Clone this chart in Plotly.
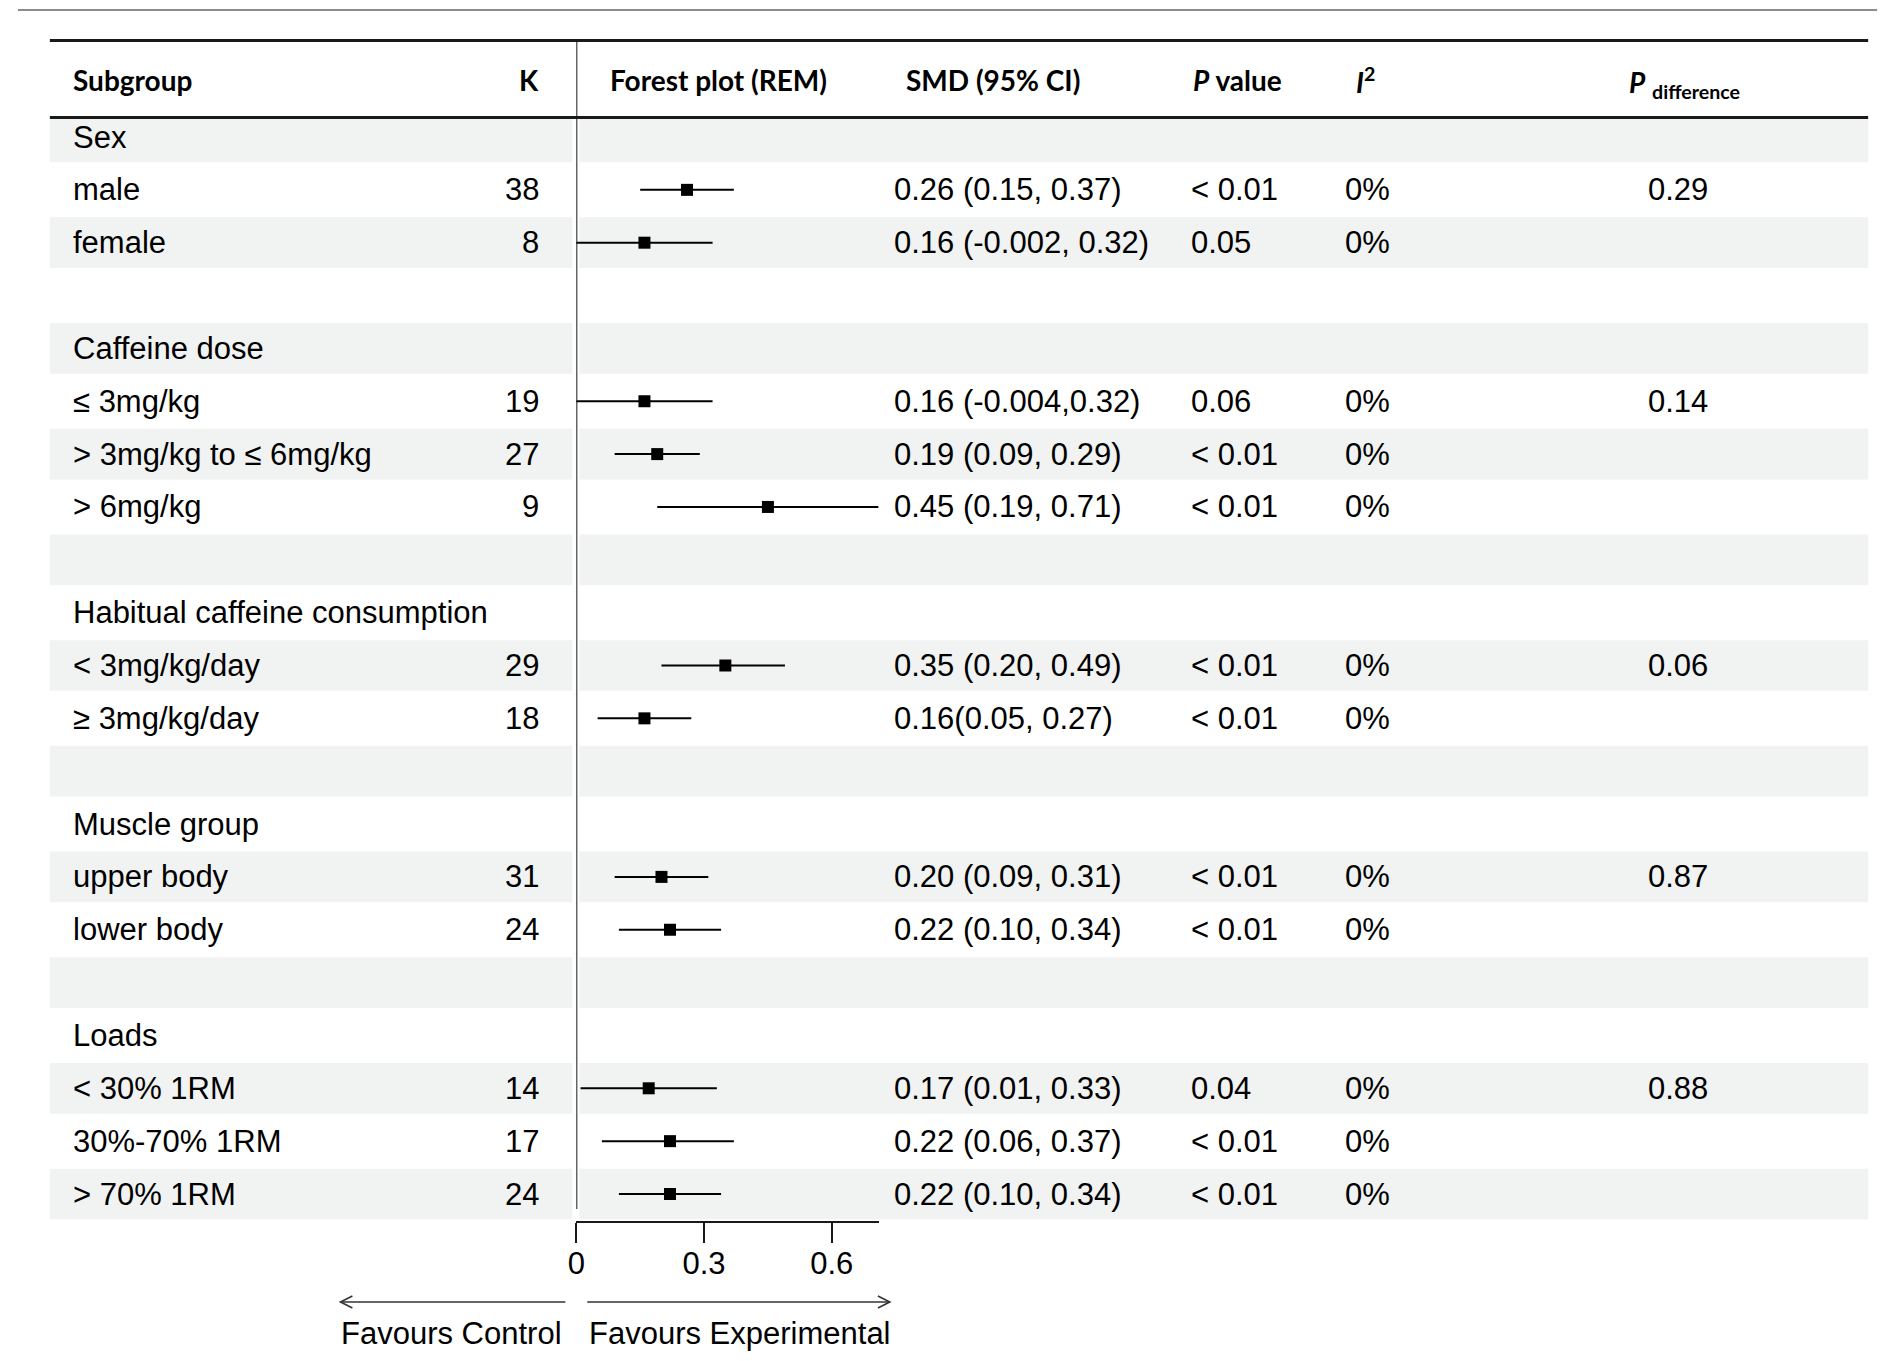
import plotly.graph_objects as go

# ---------------- data ----------------
labels = ["Sex", "male", "female", "",
          "Caffeine dose", "≤ 3mg/kg", "> 3mg/kg to ≤ 6mg/kg", "> 6mg/kg", "",
          "Habitual caffeine consumption", "< 3mg/kg/day", "≥ 3mg/kg/day", "",
          "Muscle group", "upper body", "lower body", "",
          "Loads", "< 30% 1RM", "30%-70% 1RM", "> 70% 1RM"]
k_vals = ["", "38", "8", "", "", "19", "27", "9", "", "", "29", "18", "",
          "", "31", "24", "", "", "14", "17", "24"]
smd = [None, 0.26, 0.16, None, None, 0.16, 0.19, 0.45, None, None, 0.35, 0.16, None,
       None, 0.20, 0.22, None, None, 0.17, 0.22, 0.22]
ci_lo = [None, 0.15, -0.002, None, None, -0.004, 0.09, 0.19, None, None, 0.20, 0.05, None,
         None, 0.09, 0.10, None, None, 0.01, 0.06, 0.10]
ci_hi = [None, 0.37, 0.32, None, None, 0.32, 0.29, 0.71, None, None, 0.49, 0.27, None,
         None, 0.31, 0.34, None, None, 0.33, 0.37, 0.34]
smd_text = ["", "0.26 (0.15, 0.37)", "0.16 (-0.002, 0.32)", "", "",
            "0.16 (-0.004,0.32)", "0.19 (0.09, 0.29)", "0.45 (0.19, 0.71)", "", "",
            "0.35 (0.20, 0.49)", "0.16(0.05, 0.27)", "", "",
            "0.20 (0.09, 0.31)", "0.22 (0.10, 0.34)", "", "",
            "0.17 (0.01, 0.33)", "0.22 (0.06, 0.37)", "0.22 (0.10, 0.34)"]
p_vals = ["", "< 0.01", "0.05", "", "", "0.06", "< 0.01", "< 0.01", "", "",
          "< 0.01", "< 0.01", "", "", "< 0.01", "< 0.01", "", "", "0.04", "< 0.01", "< 0.01"]
i2_vals = ["", "0%", "0%", "", "", "0%", "0%", "0%", "", "", "0%", "0%", "", "",
           "0%", "0%", "", "", "0%", "0%", "0%"]
p_diff = ["", "0.29", "", "", "", "0.14", "", "", "", "", "0.06", "", "", "",
          "0.87", "", "", "", "0.88", "", ""]
tick_vals = [0, 0.3, 0.6]
tick_text = ["0", "0.3", "0.6"]

# ---------------- layout geometry (screen pixels) ----------------
OFF = 8                              # default page body margin
W, H = 1901 - OFF, 1361 - OFF        # figure size
ROW0, ROWH = 137.0, 52.85            # pixel centre of first row, row pitch
def row(px):
    return (px - ROW0) / ROWH
def px_x(px):
    return (px - OFF) / W
def px_y(px):
    return 1 - (px - OFF) / H

AXIS_Y = 1221
X0_PX, X_SCALE = 570.0, 427.8       # pixel of SMD 0, pixels per SMD unit
xmax = max(v for v in ci_hi if v is not None)

BODY = dict(family="Liberation Sans, Arial", size=31, color="#000000")
HEAD = dict(family="Lato, Open Sans", size=28, color="#000000")

rows = list(range(len(labels)))
fx, fy, fplus, fminus = [], [], [], []
for i in rows:
    if smd[i] is not None:
        fx.append(smd[i]); fy.append(i)
        fplus.append(ci_hi[i] - smd[i]); fminus.append(smd[i] - ci_lo[i])

fig = go.Figure()
fig.add_trace(go.Scatter(
    x=fx, y=fy, mode="markers",
    marker=dict(symbol="square", size=12, color="#000000"),
    error_x=dict(type="data", symmetric=False, array=fplus, arrayminus=fminus,
                 width=0, thickness=2, color="#000000"),
    cliponaxis=False, hoverinfo="skip", showlegend=False))

shapes = []
# shaded bands (every even row)
for i in rows:
    if i % 2 == 0:
        y0 = max(i - 0.48, row(119))
        y1 = i + 0.48
        for xa, xb in [(41, 566), (573, 1868)]:
            shapes.append(dict(type="rect", xref="paper", yref="y",
                               x0=px_x(xa), x1=px_x(xb), y0=y0, y1=y1,
                               fillcolor="#f1f2f2", line=dict(width=0), layer="below"))
# top thin grey rule
shapes.append(dict(type="line", xref="paper", yref="y", x0=px_x(9), x1=px_x(1877),
                   y0=row(10), y1=row(10), line=dict(color="#8c8c8c", width=2)))
# header rules
for yy in (40.5, 117.5):
    shapes.append(dict(type="line", xref="paper", yref="y", x0=px_x(41), x1=px_x(1868),
                       y0=row(yy), y1=row(yy), line=dict(color="#1a1a1a", width=3)))
# zero line
shapes.append(dict(type="line", xref="x", yref="y", x0=0, x1=0,
                   y0=row(41), y1=row(1209), line=dict(color="#1a1a1a", width=2)))

# favour arrows (line + open chevron head)
AY = 1302
ARROW = dict(color="#333333", width=1.6)
def arrow(tail, head):
    d = 12 if tail > head else -12
    shapes.append(dict(type="line", xref="paper", yref="paper",
                       x0=px_x(tail), x1=px_x(head), y0=px_y(AY), y1=px_y(AY), line=ARROW))
    path = "M {:.5f},{:.5f} L {:.5f},{:.5f} L {:.5f},{:.5f}".format(
        px_x(head + d), px_y(AY - 6), px_x(head), px_y(AY), px_x(head + d), px_y(AY + 6))
    shapes.append(dict(type="path", xref="paper", yref="paper", path=path, line=ARROW))
arrow(559, 333)
arrow(581, 885)

ann = []
def txt(x, y, text, anchor, font, yref="y"):
    ann.append(dict(x=x, y=y, xref="paper", yref=yref, text=text, showarrow=False,
                    xanchor=anchor, yanchor="middle", font=font, borderpad=0))

# headers
hy = row(80)
txt(px_x(63), hy, "<b>Subgroup</b>", "left", HEAD)
txt(px_x(533), hy, "<b>K</b>", "right", HEAD)
txt(px_x(713), hy, "<b>Forest plot (REM)</b>", "center", HEAD)
txt(px_x(900), hy, "<b>SMD (95% CI)</b>", "left", HEAD)
txt(px_x(1189), hy, "<b><i>P</i> value</b>", "left", HEAD)
txt(px_x(1352), hy, "<b><i>I</i><sup>2</sup></b>", "left", HEAD)
txt(px_x(1627), hy + 0.08, "<b><i>P</i> <sub>difference</sub></b>", "left", HEAD)

# body columns
for i in rows:
    if labels[i]:
        txt(px_x(63), i, labels[i], "left", BODY)
    if k_vals[i]:
        txt(px_x(534), i, k_vals[i], "right", BODY)
    if smd_text[i]:
        txt(px_x(888), i, smd_text[i], "left", BODY)
    if p_vals[i]:
        txt(px_x(1187), i, p_vals[i], "left", BODY)
    if i2_vals[i]:
        txt(px_x(1341), i, i2_vals[i], "left", BODY)
    if p_diff[i]:
        txt(px_x(1677), i, p_diff[i], "center", BODY)

# favour labels
txt(px_x(557), px_y(1333), "Favours Control", "right", BODY, yref="paper")
txt(px_x(582), px_y(1333), "Favours Experimental", "left", BODY, yref="paper")

fig.update_layout(
    width=W, height=H, margin=dict(l=0, r=0, t=0, b=0),
    paper_bgcolor="white", plot_bgcolor="rgba(0,0,0,0)",
    showlegend=False, shapes=shapes, annotations=ann,
    xaxis=dict(domain=[px_x(X0_PX), px_x(X0_PX + X_SCALE * xmax)], range=[0, xmax],
               showline=True, linecolor="#1a1a1a", linewidth=2, mirror=False,
               ticks="outside", ticklen=20, tickwidth=2, tickcolor="#1a1a1a",
               tickvals=tick_vals, ticktext=tick_text, tickfont=BODY,
               ticklabelstandoff=-6,
               showgrid=False, zeroline=False, fixedrange=True, anchor="y"),
    yaxis=dict(domain=[px_y(AXIS_Y), 1], range=[row(AXIS_Y), row(OFF)],
               visible=False, showgrid=False, zeroline=False, fixedrange=True),
)

fig.write_html("out.html")
